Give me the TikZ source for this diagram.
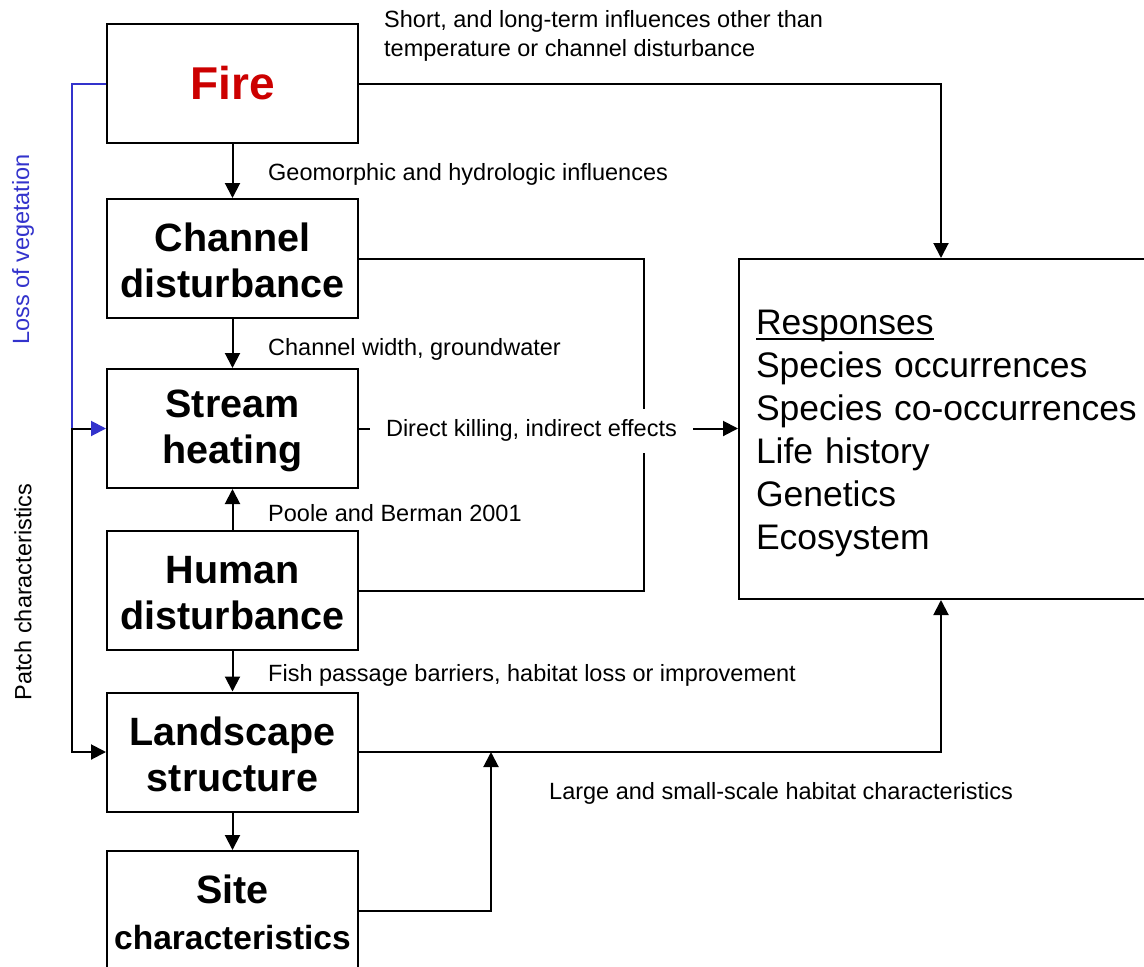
\documentclass[tikz,border=0pt]{standalone}
\usepackage{fontspec}
\setmainfont{Liberation Sans}
\usetikzlibrary{arrows.meta,calc}
\definecolor{firered}{RGB}{204,0,0}
\definecolor{vegblue}{RGB}{51,51,204}
\newcommand{\myul}[1]{\setbox0\hbox{#1}\rlap{\rule[-5pt]{\wd0}{1.8pt}}#1}
\newcommand{\topstrut}[1]{\rule{0pt}{#1}}
\begin{document}
\begin{tikzpicture}[x=1pt,y=-1pt,
  box/.style={draw, line width=2pt, minimum width=251pt, minimum height=119pt, inner sep=0pt, align=center, font=\bfseries\fontsize{39.5}{46}\selectfont},
  lbl/.style={inner sep=0pt, anchor=west, align=left, font=\fontsize{23.5}{29}\selectfont},
  arr/.style={-{Triangle[length=15pt,width=15pt]}, line width=2pt},
  link/.style={line width=2pt}]
\useasboundingbox (0,0) rectangle (1144,967);

% boxes
\node[box] (fire) at (232.5,83.5) {\fontsize{46}{50}\selectfont\color{firered}Fire};
\node[box] (chan) at (232.5,258.5) {\topstrut{33pt}Channel\\disturbance};
\node[box] (stream) at (232.5,428.5) {\topstrut{33pt}Stream\\heating};
\node[box] (human) at (232.5,590.5) {\topstrut{33pt}Human\\disturbance};
\node[box] (land) at (232.5,752) {\topstrut{33pt}Landscape\\structure};
\node[box] (site) at (232.5,910.5) {\topstrut{32pt}Site\\{\fontsize{33.5}{40}\selectfont characteristics}};
\node[draw, line width=2pt, anchor=north west, minimum height=340pt, text width=400pt, inner xsep=17pt, inner ysep=0pt, align=left, font=\fontsize{35.5}{43}\selectfont] (resp) at (738,258)
  {\topstrut{34pt}\myul{Responses}\\Species occurrences\\Species co-occurrences\\Life history\\Genetics\\Ecosystem};

% junction coordinates
\coordinate (bl) at (72,428.5);
\coordinate (jr) at (644,590.5);
\coordinate (hj) at (491,752);

% vertical chain
\draw[arr] (fire) -- (chan);
\draw[arr] (chan) -- (stream);
\draw[arr] (human) -- (stream);
\draw[arr] (human) -- (land);
\draw[arr] (land) -- (site);

% left side
\draw[arr, vegblue] (fire.west) -| (bl) -- (stream.west);
\draw[arr] ([xshift=-15pt]stream.west) -- (bl) |- (land.west);

% right side
\draw[arr] (fire.east) -| ([xshift=203pt]resp.north west);
\draw[link] (chan.east) -| (jr) -- (human.east);
\draw[arr] (stream.east) -- node[pos=0.455, yshift=-2pt, fill=white, inner xsep=16pt, inner ysep=0pt, minimum height=44pt, font=\fontsize{23.5}{29}\selectfont] (dk) {Direct killing, indirect effects} (stream.east -| resp.west);
\draw[arr] (land.east) -| ([xshift=203pt]resp.south west);
\draw[arr] (site.east) -| (hj);

% labels
\node[lbl] (lshort) at (384,35.5) {Short, and long-term influences other than\\temperature or channel disturbance};
\node[lbl] (lgeo) at (268,174) {Geomorphic and hydrologic influences};
\node[lbl] (lcw) at (268,349) {Channel width, groundwater};
\node[lbl] (lpb) at (268,513) {Poole and Berman 2001};
\node[lbl] (lfish) at (268,675) {Fish passage barriers, habitat loss or improvement};
\node[lbl] (lhab) at (549,793) {Large and small-scale habitat characteristics};
\node[rotate=90, inner sep=0pt, text=vegblue, font=\fontsize{23.5}{29}\selectfont] (lveg) at (23,249.5) {Loss of vegetation};
\node[rotate=90, inner sep=0pt, font=\fontsize{23.5}{29}\selectfont] (lpatch) at (23,592) {Patch characteristics};
\end{tikzpicture}
\end{document}
